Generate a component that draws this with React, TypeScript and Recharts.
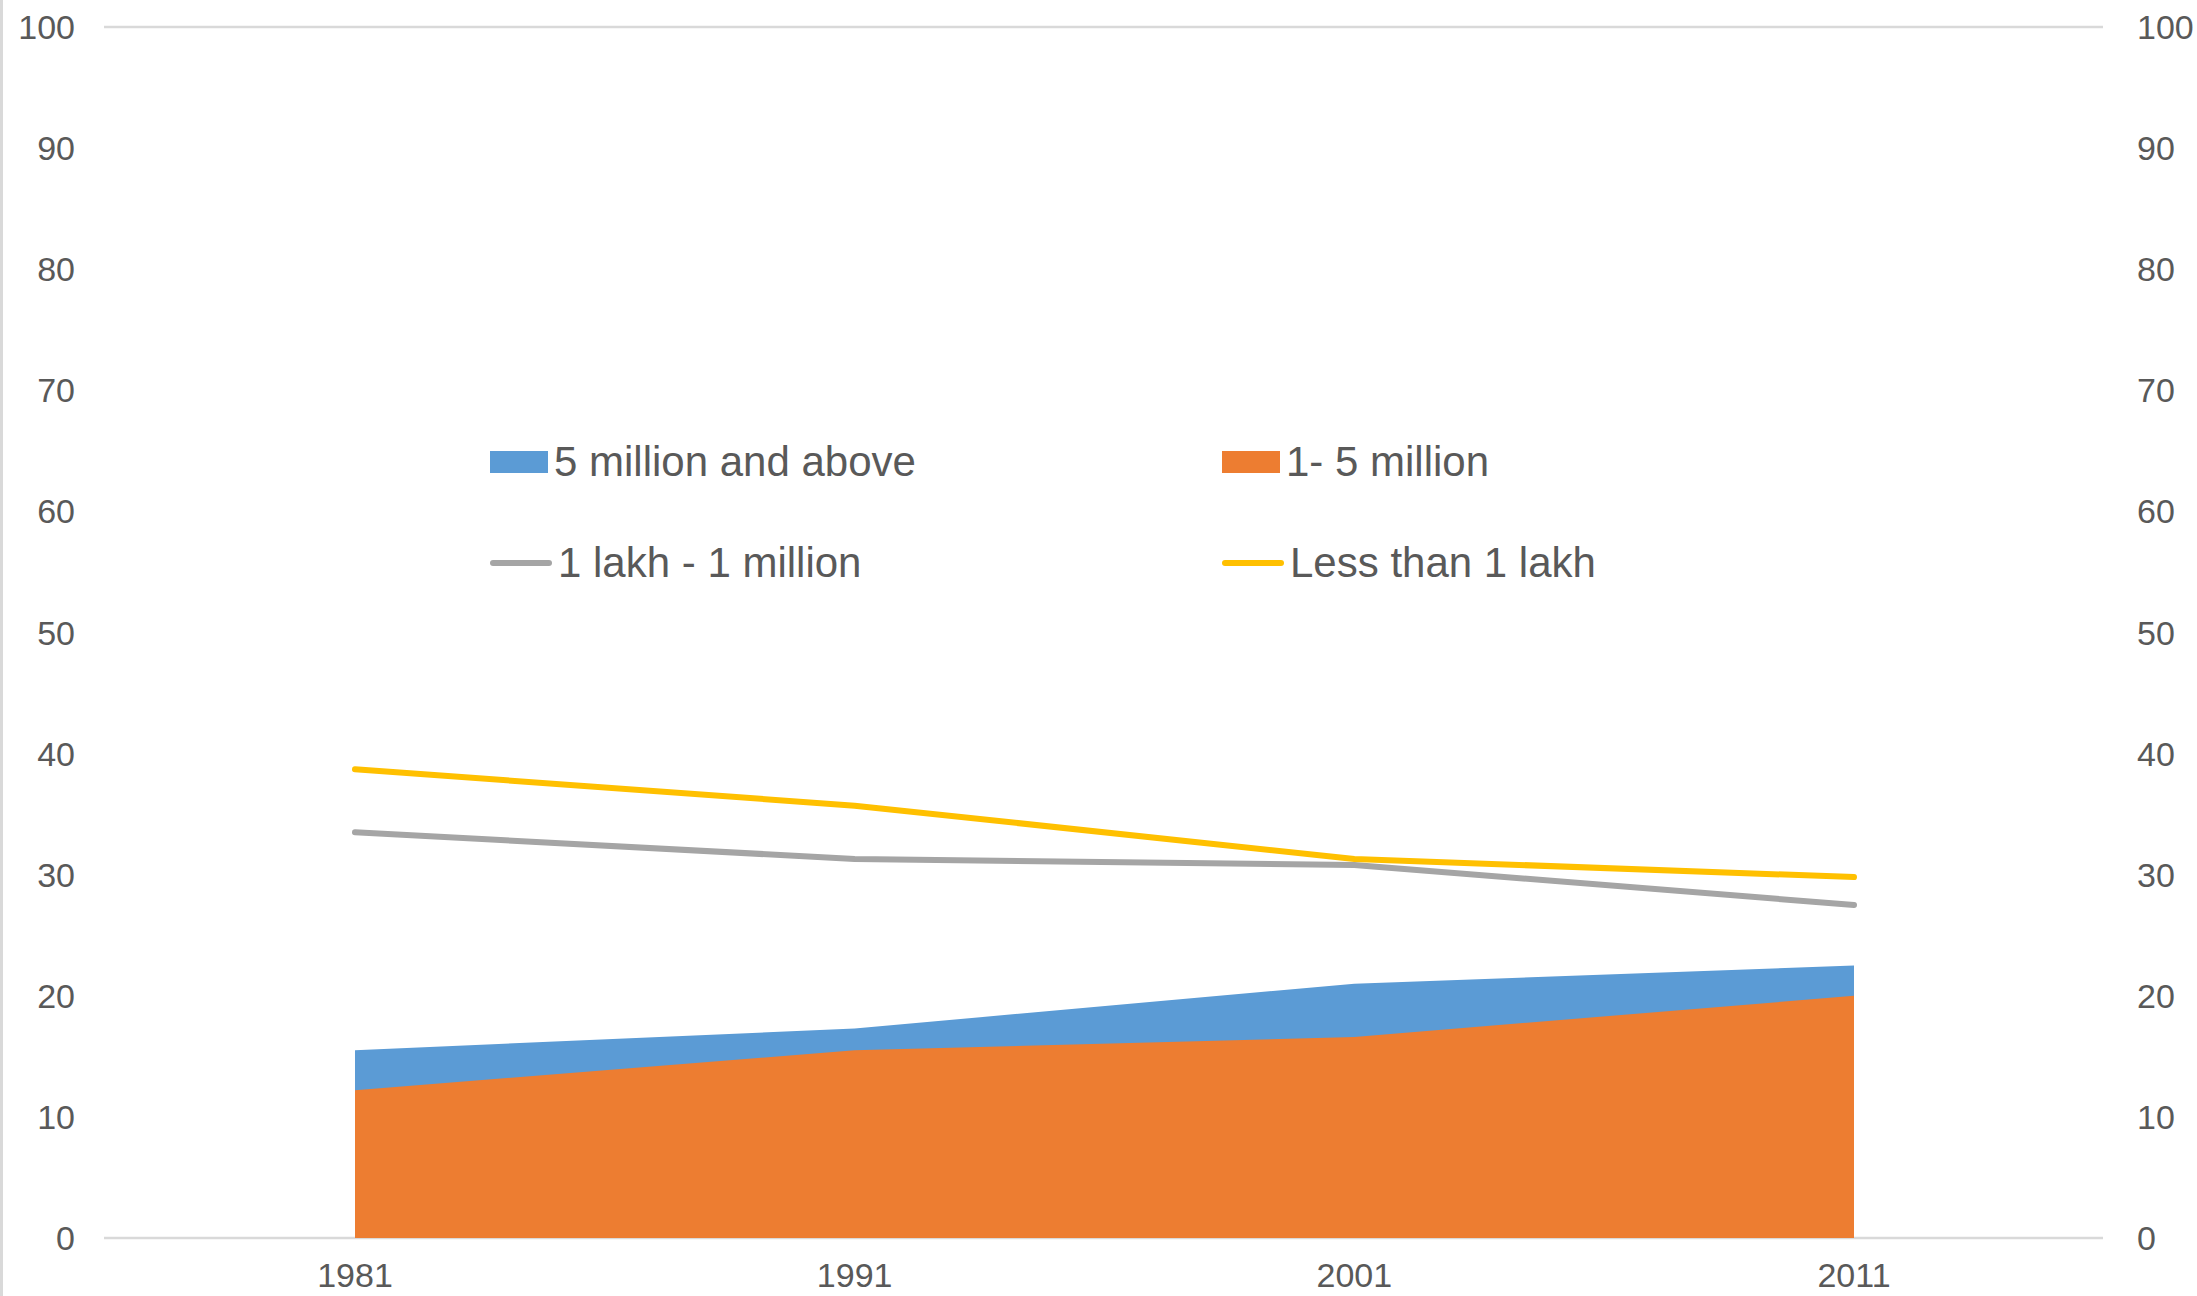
import React from 'react';
import { ComposedChart, Area, Line, XAxis, YAxis, CartesianGrid, Legend } from 'recharts';

const years = ['1981', '1991', '2001', '2011'];
const fiveMillionPlus = [15.5, 17.3, 21.0, 22.5];
const oneToFiveMillion = [12.2, 15.5, 16.6, 20.0];
const lakhToMillion = [33.5, 31.3, 30.8, 27.5];
const lessThanLakh = [38.7, 35.7, 31.3, 29.8];
const yTicks = [0, 10, 20, 30, 40, 50, 60, 70, 80, 90, 100];

const seriesInfo = [
  { key: 'fiveMillionPlus', name: '5 million and above', color: '#5B9BD5', kind: 'area' },
  { key: 'oneToFiveMillion', name: '1- 5 million', color: '#ED7D31', kind: 'area' },
  { key: 'lakhToMillion', name: '1 lakh - 1 million', color: '#A5A5A5', kind: 'line' },
  { key: 'lessThanLakh', name: 'Less than 1 lakh', color: '#FFC000', kind: 'line' },
];

const data = years.map((year, i) => ({
  year,
  fiveMillionPlus: fiveMillionPlus[i],
  oneToFiveMillion: oneToFiveMillion[i],
  lakhToMillion: lakhToMillion[i],
  lessThanLakh: lessThanLakh[i],
}));

const FONT = '"Liberation Sans", Arial, Helvetica, sans-serif';
const TEXT = '#595959';
const TICK_SIZE = 34;

const LegendContent = () => (
  <div
    style={{
      display: 'grid',
      gridTemplateColumns: '732px 732px',
      gridAutoRows: '101px',
      fontFamily: FONT,
      fontSize: 42,
      color: TEXT,
    }}
  >
    {seriesInfo.map((s) => (
      <div key={s.key} style={{ display: 'flex', alignItems: 'center', height: 60 }}>
        {s.kind === 'area' ? (
          <div style={{ width: 58, height: 22, background: s.color, marginRight: 6 }} />
        ) : (
          <div
            style={{ width: 62, height: 6, background: s.color, borderRadius: 3, marginRight: 6 }}
          />
        )}
        <span style={{ whiteSpace: 'nowrap', lineHeight: 1.15 }}>{s.name}</span>
      </div>
    ))}
  </div>
);

export default function App() {
  return (
    <div
      style={{
        position: 'absolute',
        left: 0,
        top: 0,
        width: 2197,
        height: 1296,
        background: '#ffffff',
        overflow: 'hidden',
      }}
    >
      <div
        style={{
          position: 'absolute',
          left: 0,
          top: 0,
          width: 3,
          height: 1296,
          background: '#d9d9d9',
          zIndex: 2,
        }}
      />
      <ComposedChart
        width={2197}
        height={1296}
        data={data}
        margin={{ top: 27, right: 0, bottom: 0, left: 0 }}
      >
        <CartesianGrid vertical={false} stroke="#d9d9d9" strokeWidth={2.5} />
        <XAxis
          dataKey="year"
          padding={{ left: 251, right: 249 }}
          axisLine={false}
          tickLine={false}
          tickSize={0}
          tickMargin={25}
          height={58}
          tick={{ fill: TEXT, fontSize: TICK_SIZE, fontFamily: FONT }}
        />
        <YAxis
          yAxisId="left"
          domain={[0, 100]}
          ticks={yTicks}
          width={104}
          axisLine={false}
          tickLine={false}
          tickSize={0}
          tickMargin={29}
          interval={0}
          tick={{ fill: TEXT, fontSize: TICK_SIZE, fontFamily: FONT }}
        />
        <YAxis
          yAxisId="right"
          orientation="right"
          domain={[0, 100]}
          ticks={yTicks}
          width={94}
          axisLine={false}
          tickLine={false}
          tickSize={0}
          tickMargin={34}
          interval={0}
          tick={{ fill: TEXT, fontSize: TICK_SIZE, fontFamily: FONT, textAnchor: 'start' }}
        />
        <Legend
          verticalAlign="middle"
          align="center"
          layout="horizontal"
          content={<LegendContent />}
          wrapperStyle={{ position: 'absolute', left: 490, top: 432, width: 1500 }}
        />
        <Area
          yAxisId="left"
          type="linear"
          dataKey="fiveMillionPlus"
          name="5 million and above"
          fill="#5B9BD5"
          fillOpacity={1}
          stroke="none"
          dot={false}
          activeDot={false}
          isAnimationActive={false}
        />
        <Area
          yAxisId="left"
          type="linear"
          dataKey="oneToFiveMillion"
          name="1- 5 million"
          fill="#ED7D31"
          fillOpacity={1}
          stroke="none"
          dot={false}
          activeDot={false}
          isAnimationActive={false}
        />
        <Line
          yAxisId="left"
          type="linear"
          dataKey="lakhToMillion"
          name="1 lakh - 1 million"
          stroke="#A5A5A5"
          strokeWidth={6}
          strokeLinecap="round"
          strokeLinejoin="round"
          dot={false}
          activeDot={false}
          isAnimationActive={false}
        />
        <Line
          yAxisId="right"
          type="linear"
          dataKey="lessThanLakh"
          name="Less than 1 lakh"
          stroke="#FFC000"
          strokeWidth={6}
          strokeLinecap="round"
          strokeLinejoin="round"
          dot={false}
          activeDot={false}
          isAnimationActive={false}
        />
      </ComposedChart>
    </div>
  );
}
